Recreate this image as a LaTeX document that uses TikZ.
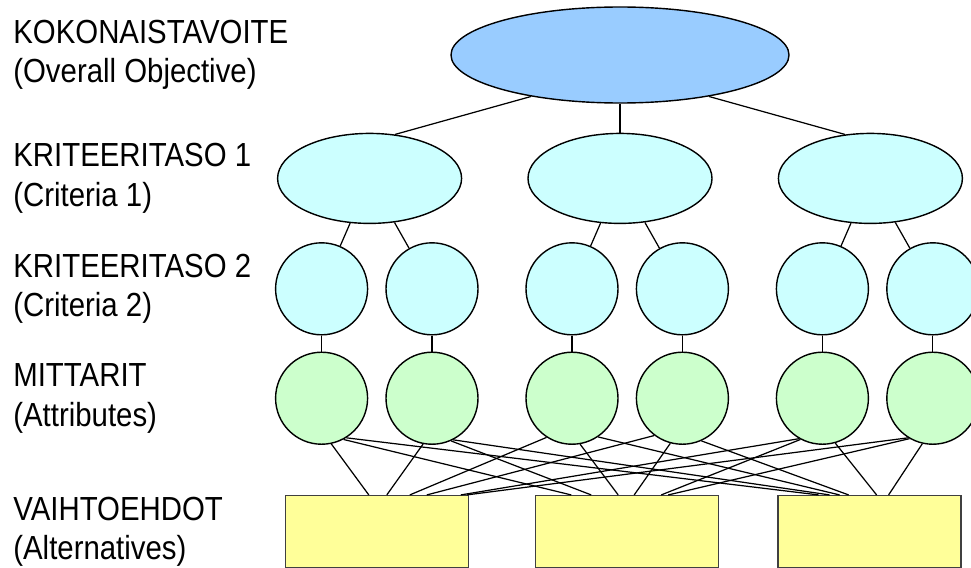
\documentclass[tikz,border=0pt]{standalone}
\usepackage{fontspec}
\setmainfont{Liberation Sans}[FakeStretch=0.88]
\usetikzlibrary{positioning, shapes.geometric, calc}

\definecolor{goalblue}{RGB}{153,204,255}
\definecolor{critcyan}{RGB}{204,255,255}
\definecolor{attrgreen}{RGB}{204,255,204}
\definecolor{altyellow}{RGB}{255,255,153}

\tikzset{
  goal/.style={ellipse, draw, line width=0.8pt, fill=goalblue,
               minimum width=67.6mm, minimum height=19.2mm},
  crit/.style={ellipse, draw, line width=0.8pt, fill=critcyan,
               minimum width=36.8mm, minimum height=18mm},
  subcrit/.style={circle, draw, line width=0.8pt, fill=critcyan,
                  minimum size=18.4mm, inner sep=0pt},
  attr/.style={circle, draw, line width=0.8pt, fill=attrgreen,
               minimum size=18.4mm, inner sep=0pt},
  altbox/.style={rectangle, draw=black!75, line width=0.8pt, fill=altyellow,
                 minimum width=36.6mm, minimum height=14.4mm},
  link/.style={line width=0.7pt},
  rowlabel/.style={anchor=west, align=left, inner sep=0pt,
                   font=\fontsize{19}{22.5}\selectfont}
}

\begin{document}
\begin{tikzpicture}[x=0.2mm, y=-0.2mm, node distance=3.4mm]
  \useasboundingbox (0,0) rectangle (971,568);
  \coordinate (lab) at (13,0);

  % objective and first criteria level
  \node[goal] (goal) at (620,55) {};
  \node[crit, below=5.8mm of goal] (k2) {};
  \node[crit, left=13mm of k2] (k1) {};
  \node[crit, right=13mm of k2] (k3) {};

  % two sub-criteria and two attributes under each criterion
  \foreach \k in {1,2,3} {
    \node[subcrit, below=3.6mm of k\k, xshift=-9.6mm] (sub\k1) {};
    \node[subcrit, right=of sub\k1] (sub\k2) {};
    \node[attr, below=3.2mm of sub\k1] (att\k1) {};
    \node[attr, below=3.2mm of sub\k2] (att\k2) {};
    \coordinate (base\k) at ($(att\k1.south)!0.5!(att\k2.south)$);
  }

  % alternatives
  \node[altbox, below=10mm of base1] (alt1) {};
  \node[altbox, below=10mm of base2] (alt2) {};
  \node[altbox, below=10mm of base3, xshift=-1.6mm] (alt3) {};

  % row captions
  \node[rowlabel] (lgoal) at (lab |- goal) {KOKONAISTAVOITE\\(Overall Objective)};
  \node[rowlabel] (lcrit) at (lab |- k1) {KRITEERITASO 1\\(Criteria 1)};
  \node[rowlabel] (lsub) at (lab |- sub11) {KRITEERITASO 2\\(Criteria 2)};
  \node[rowlabel] (latt) at (lab |- att11) {MITTARIT\\(Attributes)};
  \node[rowlabel] (lalt) at (lab |- alt1) {VAIHTOEHDOT\\(Alternatives)};

  % hierarchy links
  \draw[link] (goal.205) -- (k1.60);
  \draw[link] (goal.south) -- (k2.north);
  \draw[link] (goal.335) -- (k3.120);
  \foreach \k in {1,2,3} {
    \draw[link] (k\k) -- (sub\k1);
    \draw[link] (k\k) -- (sub\k2);
    \draw[link] (sub\k1) -- (att\k1);
    \draw[link] (sub\k2) -- (att\k2);
  }

  % every attribute feeds every alternative (start angle / box / offset)
  \foreach \m/\a/\b/\dx in {11/-78/1/-1.6, 11/-62/2/-11.2, 11/-58/3/-10.2,
                            12/-101/1/2,   12/-66/2/-7.2,   12/-63/3/-8,
                            21/-123/1/6.6, 21/-80/2/-1.8,   21/-56/3/-6,
                            22/-127/1/10,  22/-105/2/1.4,   22/-66/3/-4.2,
                            31/-120/1/16.8, 31/-118/2/6.8,  31/-74/3/1.4,
                            32/-122/1/18,  32/-120/2/8.2,   32/-103/3/3.8}
    \draw[link] (att\m.\a) -- ([xshift=\dx mm]alt\b.north);
\end{tikzpicture}
\end{document}
